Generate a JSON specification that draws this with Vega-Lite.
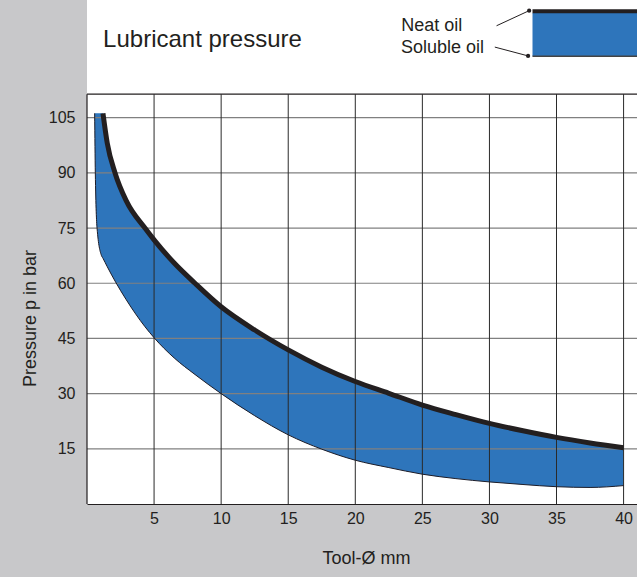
{
  "$schema": "https://vega.github.io/schema/vega-lite/v6.json",
  "width": 550,
  "height": 504,
  "autosize": {"type": "none"},
  "padding": {"left": 87, "top": 0, "right": 0, "bottom": 73},
  "background": "#c8c8ca",
  "config": {
    "view": {"fill": "white", "stroke": null},
    "font": "Liberation Sans",
    "text": {"color": "#231f20"}
  },
  "datasets": {
    "band": [
      {"x": 0.57, "hi": 106.2, "lo": 106.2},
      {"x": 0.62, "hi": 106.2, "lo": 90},
      {"x": 0.75, "hi": 106.2, "lo": 75},
      {"x": 1.07, "hi": 106.2, "lo": 67.6},
      {"x": 1.19, "hi": 106.2, "lo": 66.8},
      {"x": 1.51, "hi": 98.1, "lo": 64.5},
      {"x": 2.09, "hi": 90, "lo": 60.6},
      {"x": 2.93, "hi": 82.4, "lo": 55.5},
      {"x": 4.32, "hi": 75, "lo": 48.2},
      {"x": 5, "hi": 71.8, "lo": 45.2},
      {"x": 6.5, "hi": 65.5, "lo": 39.7},
      {"x": 8.05, "hi": 60, "lo": 35.2},
      {"x": 10, "hi": 53.6, "lo": 30.0},
      {"x": 12.5, "hi": 47.3, "lo": 24.0},
      {"x": 15, "hi": 41.9, "lo": 18.8},
      {"x": 17.5, "hi": 37.2, "lo": 14.9},
      {"x": 20, "hi": 33.3, "lo": 11.9},
      {"x": 22.5, "hi": 30.1, "lo": 9.9},
      {"x": 25, "hi": 26.9, "lo": 8.1},
      {"x": 27.5, "hi": 24.3, "lo": 6.9},
      {"x": 30, "hi": 21.9, "lo": 6.0},
      {"x": 32.5, "hi": 19.9, "lo": 5.3},
      {"x": 35, "hi": 18.1, "lo": 4.7},
      {"x": 37.5, "hi": 16.6, "lo": 4.5},
      {"x": 40, "hi": 15.3, "lo": 5.0}
    ],
    "vgrid": [{"x": 5}, {"x": 10}, {"x": 15}, {"x": 20}, {"x": 25}, {"x": 30}, {"x": 35}, {"x": 40}],
    "hgrid": [{"y": 15}, {"y": 30}, {"y": 45}, {"y": 60}, {"y": 75}, {"y": 90}, {"y": 105}],
    "one": [{}]
  },
  "layer": [
    {
      "data": {"name": "band"},
      "mark": {"type": "area", "color": "#2e75bb", "interpolate": "monotone", "opacity": 1},
      "encoding": {
        "x": {
          "field": "x", "type": "quantitative",
          "scale": {"domain": [0, 41], "nice": false, "zero": false},
          "axis": {
            "values": [5, 10, 15, 20, 25, 30, 35, 40], "title": "Tool-Ø mm",
            "grid": false, "ticks": false, "domain": true, "domainColor": "#231f20", "domainWidth": 1.2,
            "labelFontSize": 16, "labelColor": "#231f20", "labelPadding": 6, "labelFlush": false,
            "titleFontSize": 18, "titleFontWeight": "normal", "titleColor": "#231f20",
            "titleX": 279, "titleY": 54, "titleBaseline": "middle", "titleAlign": "center"
          }
        },
        "y": {
          "field": "hi", "type": "quantitative",
          "scale": {"domain": [0, 137], "nice": false, "zero": false},
          "axis": {
            "values": [15, 30, 45, 60, 75, 90, 105], "title": "Pressure p in bar",
            "grid": false, "ticks": false, "domain": false,
            "labelFontSize": 16, "labelColor": "#231f20", "labelPadding": 12,
            "titleFontSize": 18, "titleFontWeight": "normal", "titleColor": "#231f20",
            "titleX": -57, "titleY": 318, "titleAlign": "center", "titleBaseline": "middle", "titleAngle": 270
          }
        },
        "y2": {"field": "lo"}
      }
    },
    {
      "data": {"name": "hgrid"},
      "mark": {"type": "rule", "color": "#808080", "strokeWidth": 1.2},
      "encoding": {
        "y": {"field": "y", "type": "quantitative"},
        "x": {"datum": 0},
        "x2": {"datum": 41}
      }
    },
    {
      "data": {"name": "vgrid"},
      "mark": {"type": "rule", "color": "#2a2a2a", "strokeWidth": 1},
      "encoding": {
        "x": {"field": "x", "type": "quantitative"},
        "y": {"datum": 0},
        "y2": {"datum": 111.4}
      }
    },
    {
      "data": {"name": "one"},
      "mark": {"type": "rule", "color": "#231f20", "strokeWidth": 1.2},
      "encoding": {"x": {"datum": 0}, "x2": {"datum": 41}, "y": {"datum": 111.4}}
    },
    {
      "data": {"name": "one"},
      "mark": {"type": "rule", "color": "#231f20", "strokeWidth": 1.2},
      "encoding": {"x": {"datum": 0}, "y": {"datum": 0}, "y2": {"datum": 111.4}}
    },
    {
      "data": {"name": "band"},
      "mark": {"type": "line", "color": "#1c1c28", "strokeWidth": 1, "interpolate": "monotone"},
      "encoding": {
        "x": {"field": "x", "type": "quantitative"},
        "y": {"field": "lo", "type": "quantitative"}
      }
    },
    {
      "data": {"name": "band"},
      "transform": [{"filter": "datum.x >= 1.19"}],
      "mark": {"type": "line", "color": "#231f20", "strokeWidth": 5, "strokeCap": "butt", "interpolate": "monotone"},
      "encoding": {
        "x": {"field": "x", "type": "quantitative"},
        "y": {"field": "hi", "type": "quantitative"}
      }
    },
    {
      "data": {"name": "one"},
      "mark": {"type": "rect", "color": "#2e75bb"},
      "encoding": {"x": {"datum": 33.21}, "x2": {"datum": 41}, "y": {"datum": 121.7}, "y2": {"datum": 133.5}}
    },
    {
      "data": {"name": "one"},
      "mark": {"type": "rect", "color": "#231f20"},
      "encoding": {"x": {"datum": 33.21}, "x2": {"datum": 41}, "y": {"datum": 133.4}, "y2": {"datum": 134.5}}
    },
    {
      "data": {"name": "one"},
      "mark": {"type": "rule", "color": "#444444", "strokeWidth": 1.5},
      "encoding": {"x": {"datum": 33.21}, "x2": {"datum": 41}, "y": {"datum": 121.7}}
    },
    {
      "data": {"name": "one"},
      "mark": {"type": "rule", "color": "#231f20", "strokeWidth": 1},
      "encoding": {"x": {"datum": 30.53}, "y": {"datum": 130.0}, "x2": {"datum": 32.96}, "y2": {"datum": 134.1}}
    },
    {
      "data": {"name": "one"},
      "mark": {"type": "rule", "color": "#231f20", "strokeWidth": 1},
      "encoding": {"x": {"datum": 30.4}, "y": {"datum": 124.2}, "x2": {"datum": 32.88}, "y2": {"datum": 121.8}}
    },
    {
      "data": {"name": "one"},
      "mark": {"type": "point", "filled": true, "color": "#231f20", "size": 18, "opacity": 1},
      "encoding": {"x": {"datum": 32.96}, "y": {"datum": 134.1}}
    },
    {
      "data": {"name": "one"},
      "mark": {"type": "point", "filled": true, "color": "#231f20", "size": 18, "opacity": 1},
      "encoding": {"x": {"datum": 32.88}, "y": {"datum": 121.8}}
    },
    {
      "data": {"name": "one"},
      "mark": {"type": "text", "text": "Neat oil", "fontSize": 18, "align": "left", "baseline": "alphabetic"},
      "encoding": {"x": {"datum": 23.42}, "y": {"datum": 128.46}}
    },
    {
      "data": {"name": "one"},
      "mark": {"type": "text", "text": "Soluble oil", "fontSize": 18, "align": "left", "baseline": "alphabetic"},
      "encoding": {"x": {"datum": 23.41}, "y": {"datum": 122.6}}
    },
    {
      "data": {"name": "one"},
      "mark": {"type": "text", "text": "Lubricant pressure", "fontSize": 24, "align": "left", "baseline": "alphabetic"},
      "encoding": {"x": {"datum": 1.2}, "y": {"datum": 124.2}}
    }
  ]
}
